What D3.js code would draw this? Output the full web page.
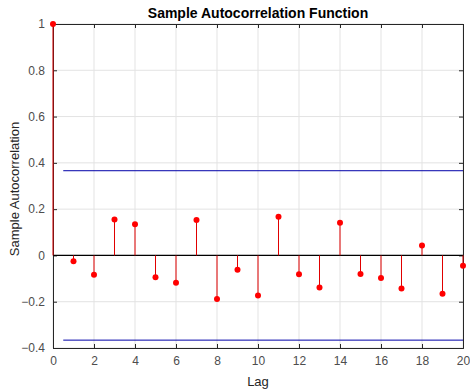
<!DOCTYPE html>
<html>
<head>
<meta charset="utf-8">
<script src="https://cdn.jsdelivr.net/npm/d3@7"></script>
<style>
  body { margin: 0; background: #fff; }
  text { font-family: "Liberation Sans", Arial, sans-serif; }
  .axis text { fill: #4d4d4d; font-size: 12px; }
  .axis path, .axis line { stroke: #262626; }
  .grid line { stroke: #e3e3e3; }
</style>
</head>
<body>
<div id="chart"></div>
<script>
// lags and sample autocorrelation values
const lags = d3.range(0, 21);
const acf = [1, -0.025, -0.084, 0.155, 0.135, -0.094, -0.118, 0.153, -0.188, -0.062, -0.173,
             0.167, -0.081, -0.139, 0.141, -0.080, -0.097, -0.143, 0.043, -0.166, -0.045];
const bound = 0.366;
const xTicks = [0, 2, 4, 6, 8, 10, 12, 14, 16, 18, 20];
const yTicks = [-0.4, -0.2, 0, 0.2, 0.4, 0.6, 0.8, 1];

const width = 470, height = 392;
const margin = {top: 24, right: 7, bottom: 44, left: 53};

const svg = d3.select("#chart").append("svg")
  .attr("width", width)
  .attr("height", height);

const x = d3.scaleLinear().domain([0, 20]).range([margin.left, width - margin.right]);
const y = d3.scaleLinear().domain([-0.4, 1]).range([height - margin.bottom, margin.top]);

// grid
svg.append("g").attr("class", "grid")
  .selectAll("line.gx").data(xTicks).enter().append("line")
  .attr("x1", d => x(d)).attr("x2", d => x(d))
  .attr("y1", y(-0.4)).attr("y2", y(1));
svg.append("g").attr("class", "grid")
  .selectAll("line.gy").data(yTicks).enter().append("line")
  .attr("x1", x(0)).attr("x2", x(20))
  .attr("y1", d => y(d)).attr("y2", d => y(d));

// axes (MATLAB style box, ticks inside)
const fmt = d => d3.format("")(Math.round(d * 10) / 10);
svg.append("g").attr("class", "axis")
  .attr("transform", `translate(0,${y(-0.4)})`)
  .call(d3.axisBottom(x).tickValues(xTicks).tickSize(-4).tickPadding(8).tickFormat(fmt));
svg.append("g").attr("class", "axis")
  .attr("transform", `translate(${x(0)},0)`)
  .call(d3.axisLeft(y).tickValues(yTicks).tickSize(-4).tickPadding(8).tickFormat(fmt));
svg.append("g").attr("class", "axis")
  .attr("transform", `translate(0,${y(1)})`)
  .call(d3.axisTop(x).tickValues(xTicks).tickSize(-4).tickFormat(""));
svg.append("g").attr("class", "axis")
  .attr("transform", `translate(${x(20)},0)`)
  .call(d3.axisRight(y).tickValues(yTicks).tickSize(-4).tickFormat(""));
svg.selectAll(".axis .domain").attr("stroke", "#262626");

// zero line
svg.append("line")
  .attr("x1", x(0)).attr("x2", x(20))
  .attr("y1", y(0)).attr("y2", y(0))
  .attr("stroke", "#000").attr("stroke-width", 1.2);

// confidence bounds
[bound, -bound].forEach(b => {
  svg.append("line")
    .attr("x1", x(0.5)).attr("x2", x(20))
    .attr("y1", y(b)).attr("y2", y(b))
    .attr("stroke", "#0000a8").attr("stroke-width", 1);
});

// stems
const data = lags.map((l, i) => ({lag: l, v: acf[i]}));
svg.selectAll("line.stem").data(data).enter().append("line")
  .attr("class", "stem")
  .attr("x1", d => x(d.lag)).attr("x2", d => x(d.lag))
  .attr("y1", y(0)).attr("y2", d => y(d.v))
  .attr("stroke", "#e00000").attr("stroke-width", 1);

svg.selectAll("circle.pt").data(data).enter().append("circle")
  .attr("class", "pt")
  .attr("cx", d => x(d.lag)).attr("cy", d => y(d.v))
  .attr("r", 3)
  .attr("fill", "#ff0000");

// labels
svg.append("text")
  .attr("x", (x(0) + x(20)) / 2).attr("y", 18)
  .attr("text-anchor", "middle")
  .style("font-weight", "bold").style("font-size", "14px").style("fill", "#000")
  .text("Sample Autocorrelation Function");

svg.append("text")
  .attr("x", (x(0) + x(20)) / 2).attr("y", 386)
  .attr("text-anchor", "middle")
  .style("font-size", "13px").style("fill", "#262626")
  .text("Lag");

svg.append("text")
  .attr("transform", `translate(19,${(y(-0.4) + y(1)) / 2 + 3}) rotate(-90)`)
  .attr("text-anchor", "middle")
  .style("font-size", "13px").style("fill", "#262626")
  .text("Sample Autocorrelation");
</script>
</body>
</html>
